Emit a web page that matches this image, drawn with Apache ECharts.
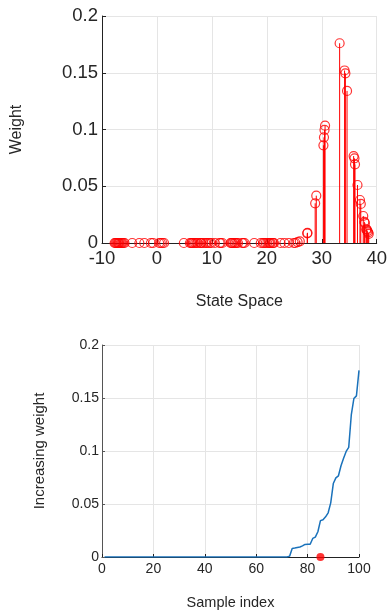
<!DOCTYPE html>
<html>
<head>
<meta charset="utf-8">
<script src="https://cdn.jsdelivr.net/npm/echarts@6/dist/echarts.min.js"></script>
<style>
html,body{margin:0;padding:0;background:#fff;}
#c{width:390px;height:611px;}
</style>
</head>
<body>
<div id="c"></div>
<script>
// ---- Top chart: particle states and weights ----
const zeroStateX = [
  -7.7, -7.55, -7.4, -7.25, -7.1, -7.0, -6.9, -6.77, -6.6, -6.45, -6.3, -6.1, -5.9,
  -4.5, -3.2, -2.3, -1.1, -0.7, 0.4, 0.7, 1.0, 1.3,
  4.9, 6.0, 6.2, 6.35, 6.5, 6.7, 6.95, 7.2, 7.4, 7.85, 8.0, 8.1, 8.45, 8.8, 9.05, 9.3, 9.65, 9.9,
  10.55, 11.4, 11.6, 11.9, 13.4, 13.55, 13.7, 13.85, 14.1, 14.25, 14.5, 14.75, 15.5, 15.7, 15.95,
  17.7, 18.9, 19.3, 19.5, 19.8, 20.1, 20.4, 20.55, 20.7, 21.0, 21.15, 21.3, 22.5, 23.2, 24.0, 24.9, 25.2
];
const weightedStateX = [25.6, 26.0, 27.35, 27.4, 28.8, 29.0, 30.3, 30.4, 30.5, 30.6,
  33.25, 34.15, 34.3, 34.6, 35.8, 35.95, 36.05, 36.5, 36.95, 37.1,
  37.55, 37.75, 37.85, 38.1, 38.2, 38.3, 38.45, 38.55];
const weightedStateW = [0.0008, 0.0015, 0.0085, 0.009, 0.035, 0.0417, 0.0861, 0.0931, 0.0996, 0.1034,
  0.176, 0.152, 0.1495, 0.134, 0.0766, 0.0746, 0.0693, 0.0511, 0.0379, 0.0344,
  0.0238, 0.0187, 0.0175, 0.012, 0.0119, 0.0105, 0.0094, 0.0081];
const topXTicks = [-10, 0, 10, 20, 30, 40];
const topYTicks = [0, 0.05, 0.1, 0.15, 0.2];

// ---- Bottom chart: sorted weights ----
const sortedZeroCount = 72;
const sortedNonZero = [0.0008, 0.0081, 0.0085, 0.009, 0.0094, 0.0105, 0.0119, 0.012, 0.012,
  0.0175, 0.0187, 0.0238, 0.0343, 0.0352, 0.0379, 0.0417, 0.0511, 0.0693, 0.0746, 0.0766,
  0.0861, 0.0931, 0.0996, 0.1034, 0.134, 0.1495, 0.152, 0.176];
const markedSample = [85, 0];
const bottomXTicks = [0, 20, 40, 60, 80, 100];
const bottomYTicks = [0, 0.05, 0.1, 0.15, 0.2];

// build data
const particles = zeroStateX.map(x => [x, 0]).concat(weightedStateX.map((x, i) => [x, weightedStateW[i]]));
const sortedWeights = [];
for (let i = 0; i < sortedZeroCount; i++) sortedWeights.push(0);
sortedNonZero.forEach(v => sortedWeights.push(v));
const sortedData = sortedWeights.map((v, i) => [i + 1, v]);

const FONT = 'Liberation Sans, Arial, sans-serif';
const TXT = '#262626';
const GRIDC = '#e5e5e5';

const chart = echarts.init(document.getElementById('c'), null, {renderer: 'canvas'});
chart.setOption({
  animation: false,
  textStyle: {fontFamily: FONT},
  grid: [
    {left: 102, right: 9, top: 16, height: 227},
    {left: 102, right: 31, top: 345, height: 214}
  ],
  xAxis: [
    {
      gridIndex: 0, type: 'value', min: -10, max: 40, interval: 10,
      name: 'State Space', nameLocation: 'middle', nameGap: 51,
      nameTextStyle: {fontSize: 16, color: TXT, fontFamily: FONT},
      axisLine: {show: true, onZero: false, lineStyle: {color: '#222', width: 1}},
      axisTick: {show: true, inside: true, length: 4, lineStyle: {color: '#222'}},
      axisLabel: {fontSize: 18.5, color: TXT, margin: 6, fontFamily: FONT},
      splitLine: {show: true, lineStyle: {color: GRIDC, width: 1}}
    },
    {
      gridIndex: 1, type: 'value', min: 0, max: 100, interval: 20,
      name: 'Sample index', nameLocation: 'middle', nameGap: 38,
      nameTextStyle: {fontSize: 14.5, color: TXT, fontFamily: FONT},
      axisLine: {show: true, onZero: false, lineStyle: {color: '#222', width: 1}},
      axisTick: {show: true, inside: true, length: 3, lineStyle: {color: '#222'}},
      axisLabel: {fontSize: 14, color: TXT, margin: 5, fontFamily: FONT},
      splitLine: {show: true, lineStyle: {color: GRIDC, width: 1}}
    }
  ],
  yAxis: [
    {
      gridIndex: 0, type: 'value', min: 0, max: 0.2, interval: 0.05,
      name: 'Weight', nameLocation: 'middle', nameGap: 77, nameRotate: 90,
      nameTextStyle: {fontSize: 16, color: TXT, fontFamily: FONT},
      axisLine: {show: true, onZero: false, lineStyle: {color: '#222', width: 1}},
      axisTick: {show: true, inside: true, length: 4, lineStyle: {color: '#222'}},
      axisLabel: {fontSize: 18.5, color: TXT, margin: 4, fontFamily: FONT},
      splitLine: {show: true, lineStyle: {color: GRIDC, width: 1}}
    },
    {
      gridIndex: 1, type: 'value', min: 0, max: 0.2, interval: 0.05,
      name: 'Increasing weight', nameLocation: 'middle', nameGap: 55, nameRotate: 90,
      nameTextStyle: {fontSize: 15, color: TXT, fontFamily: FONT},
      axisLine: {show: true, onZero: false, lineStyle: {color: '#555', width: 1}},
      axisTick: {show: true, inside: true, length: 3, lineStyle: {color: '#555'}},
      axisLabel: {fontSize: 14, color: TXT, margin: 3, fontFamily: FONT},
      splitLine: {show: true, lineStyle: {color: GRIDC, width: 1}}
    }
  ],
  series: [
    {
      type: 'custom', xAxisIndex: 0, yAxisIndex: 0, data: particles, clip: false,
      renderItem: function (params, api) {
        const p0 = api.coord([api.value(0), 0]);
        const p1 = api.coord([api.value(0), api.value(1)]);
        return {type: 'line', shape: {x1: p0[0], y1: p0[1], x2: p1[0], y2: p1[1]},
          style: {stroke: '#ff0000', lineWidth: 1}};
      },
      z: 3
    },
    {
      type: 'scatter', xAxisIndex: 0, yAxisIndex: 0, data: particles,
      symbol: 'circle', symbolSize: 9, clip: false,
      itemStyle: {color: 'rgba(0,0,0,0)', borderColor: '#ff0000', borderWidth: 1.2},
      z: 4
    },
    {
      type: 'line', xAxisIndex: 1, yAxisIndex: 1, data: sortedData,
      showSymbol: false, symbol: 'none',
      lineStyle: {color: '#1a72bb', width: 1.5}, z: 3
    },
    {
      type: 'scatter', xAxisIndex: 1, yAxisIndex: 1, data: [markedSample],
      symbol: 'circle', symbolSize: 8, clip: false,
      itemStyle: {color: '#ff0000'}, z: 5
    }
  ]
});
</script>
</body>
</html>
